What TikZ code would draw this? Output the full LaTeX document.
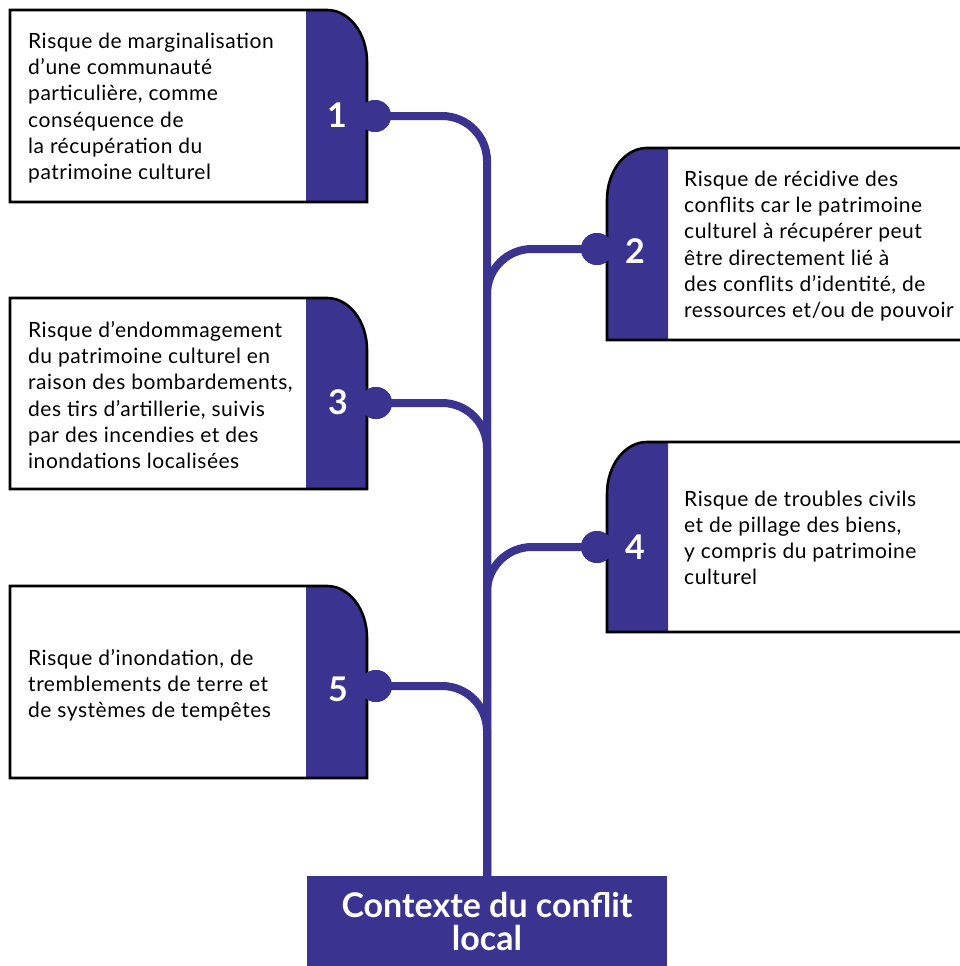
\documentclass[tikz,border=0pt]{standalone}
\usepackage{fontspec}
\setmainfont{Lato}
\newfontfamily\bodyfont[LetterSpace=2.5]{Lato}
\definecolor{purp}{RGB}{58,51,143}
\tikzset{
  outline/.style={draw=black, line width=2.6pt, line join=miter},
  conn/.style={draw=purp, line width=8pt, rounded corners=45pt},
  dot/.style={circle, fill=purp, draw=none, minimum size=32pt, inner sep=0pt},
  num/.style={text=white, font=\fontsize{34}{34}\selectfont\bfseries, inner sep=0pt},
  body/.style={text=black, font=\bodyfont\fontsize{21}{26.2}\selectfont, align=left, inner sep=0pt, anchor=west},
  ctxbox/.style={fill=purp, draw=none, minimum width=360pt, minimum height=90pt, inner sep=0pt,
     text=white, align=center, font=\fontsize{34}{33}\selectfont\bfseries}
}
\begin{document}
\begin{tikzpicture}[x=1pt, y=-1pt]
\useasboundingbox (0,0) rectangle (960,966);
% ---- left boxes (tab on right) : y top, y bottom
\foreach \t/\b in {10/202, 298/489, 586/778}{
  \fill[purp] (306,\t) -- (327,\t) .. controls (349,\t) and (367,\t+23) .. (367,\t+52) -- (367,\b) -- (306,\b) -- cycle;
  \draw[outline] (10,\t) -- (327,\t) .. controls (349,\t) and (367,\t+23) .. (367,\t+52) -- (367,\b) -- (10,\b) -- cycle;
}
% ---- right boxes (tab on left)
\foreach \t/\b in {148/340, 442/632}{
  \fill[purp] (668,\t) -- (647,\t) .. controls (625,\t) and (607,\t+23) .. (607,\t+52) -- (607,\b) -- (668,\b) -- cycle;
  \draw[outline] (961,\t) -- (647,\t) .. controls (625,\t) and (607,\t+23) .. (607,\t+52) -- (607,\b) -- (961,\b);
}
% ---- bottom box
\node[ctxbox] (ctx) at (487,921) {Contexte du conflit\\local};
% ---- dots
\node[dot] (d1) at (375,116) {};
\node[dot] (d2) at (597,249) {};
\node[dot] (d3) at (376,403) {};
\node[dot] (d4) at (597,547) {};
\node[dot] (d5) at (376,686) {};
% ---- connectors
\draw[conn] (d1.center) -| (ctx.north);
\draw[conn] (d2.center) -| (ctx.north);
\draw[conn] (d3.center) -| (ctx.north);
\draw[conn] (d4.center) -| (ctx.north);
\draw[conn] (d5.center) -| (ctx.north);
% redraw dots on top of connectors
\node[dot] at (d1) {};
\node[dot] at (d2) {};
\node[dot] at (d3) {};
\node[dot] at (d4) {};
\node[dot] at (d5) {};
% ---- numbers
\node[num] (n1) at (337,115) {1};
\node[num] (n2) at (635,251) {2};
\node[num] (n3) at (338,402) {3};
\node[num] (n4) at (635,547) {4};
\node[num] (n5) at (338,689) {5};
% ---- texts
\node[body] (t1) at (28,108) {Risque de marginalisation\\d’une communauté\\particulière, comme\\conséquence de\\la récupération du\\patrimoine culturel};
\node[body] (t2) at (684,246) {Risque de récidive des\\conflits car le patrimoine\\culturel à récupérer peut\\être directement lié à\\des conflits d’identité, de\\ressources et/ou de pouvoir};
\node[body] (t3) at (28,395) {Risque d’endommagement\\du patrimoine culturel en\\raison des bombardements,\\des tirs d’artillerie, suivis\\par des incendies et des\\inondations localisées};
\node[body] (t4) at (684,538) {Risque de troubles civils\\et de pillage des biens,\\y compris du patrimoine\\culturel};
\node[body] (t5) at (28,685) {Risque d’inondation, de\\tremblements de terre et\\de systèmes de tempêtes};
\end{tikzpicture}
\end{document}
